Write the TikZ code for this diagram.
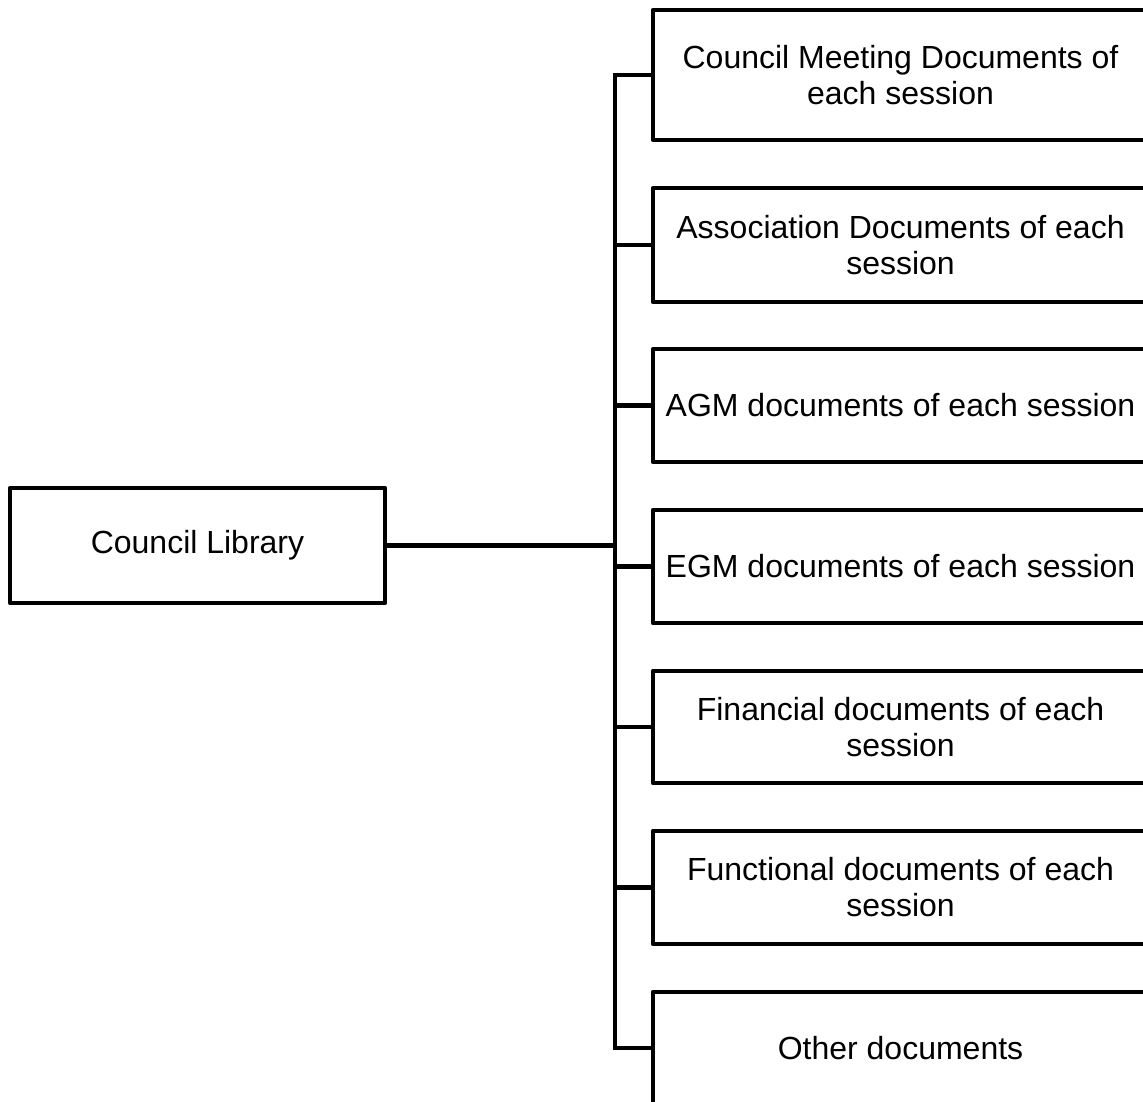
\documentclass[tikz,border=0pt]{standalone}
\usepackage{fontspec}
\setmainfont{Liberation Sans}
\begin{document}
\begin{tikzpicture}[x=1pt,y=-1pt,
  box/.style={draw=black, line width=4.5pt, fill=white, inner sep=0pt, outer sep=0pt,
    align=center, font=\fontsize{32}{36}\selectfont, line join=round},
  leaf/.style={box, minimum width=495pt},
  link/.style={draw=black, line width=4.5pt}]
\useasboundingbox[fill=white] (0,0) rectangle (1143,1102);
\node[box, minimum width=375pt, minimum height=115pt] (lib) at (197.5,545.5) {Council Library};
\node[leaf, minimum height=130pt] (b1) at (900.5,75) {Council Meeting Documents of\\each session};
\node[leaf, minimum height=114pt] (b2) at (900.5,245) {Association Documents of each\\session};
\node[leaf, minimum height=113pt] (b3) at (900.5,405.5) {AGM documents of each session};
\node[leaf, minimum height=113pt] (b4) at (900.5,566.5) {EGM documents of each session};
\node[leaf, minimum height=112pt] (b5) at (900.5,727) {Financial documents of each\\session};
\node[leaf, minimum height=113pt] (b6) at (900.5,887.5) {Functional documents of each\\session};
\node[leaf, minimum height=112pt] (b7) at (900.5,1048) {Other documents};
\coordinate (j) at (615,545.5);
\draw[link] (lib.east) -- (j);
\foreach \b in {b1,b2,b3,b4,b5,b6,b7}{
  \draw[link] (j) |- (\b.west);
}
\end{tikzpicture}
\end{document}
